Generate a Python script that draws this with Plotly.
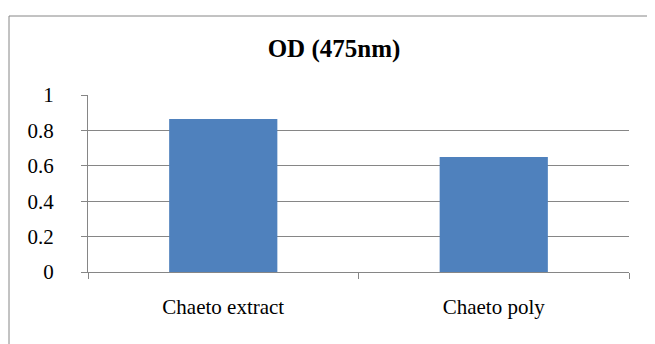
import plotly.graph_objects as go

categories = ["Chaeto extract", "Chaeto poly"]
values = [0.864, 0.65]
y_ticks = [0, 0.2, 0.4, 0.6, 0.8, 1]
y_tick_labels = ["0", "0.2", "0.4", "0.6", "0.8", "1"]
title_text = "OD (475nm)"

OFF = 8  # default page body margin
W, H = 655 - OFF, 344 - OFF
L, R, T, B = 88 - OFF, 26, 95 - OFF, 72
pw, ph = W - L - R, H - T - B

fig = go.Figure(go.Bar(x=categories, y=values, marker=dict(color="#4F81BD", line=dict(width=0))))

FONT = "Liberation Serif"
GRAY = "#868686"

fig.update_layout(
    width=W, height=H,
    margin=dict(l=L, r=R, t=T, b=B, pad=0, autoexpand=False),
    paper_bgcolor="white", plot_bgcolor="white",
    bargap=0.6,
    showlegend=False,
    font=dict(family=FONT, size=21, color="black"),
    title=dict(text="<b>" + title_text + "</b>", x=(334 - OFF) / W, xanchor="center",
               y=1 - (48 - OFF) / H, yanchor="middle", font=dict(family=FONT, size=25, color="black")),
    xaxis=dict(type="category", tickson="boundaries", ticks="outside", ticklen=6, tickcolor=GRAY,
               showline=True, linecolor=GRAY, linewidth=1, showgrid=False, automargin=False,
               ticklabelstandoff=16, tickfont=dict(family=FONT, size=21, color="black")),
    yaxis=dict(range=[0, 1], tickvals=y_ticks, ticktext=y_tick_labels, ticks="outside", ticklen=6,
               tickcolor=GRAY, showline=True, linecolor=GRAY, linewidth=1, automargin=False,
               showgrid=True, gridcolor=GRAY, gridwidth=1, zeroline=False,
               ticklabelstandoff=23, tickfont=dict(family=FONT, size=21, color="black")),
    shapes=[dict(type="rect", xref="paper", yref="paper",
                 x0=(9 - 88) / pw, x1=(652 - 88) / pw,
                 y0=(272 - 360) / ph, y1=(272 - 16) / ph,
                 line=dict(color=GRAY, width=1), fillcolor="rgba(0,0,0,0)", layer="below")],
)

fig.write_html("out.html")
